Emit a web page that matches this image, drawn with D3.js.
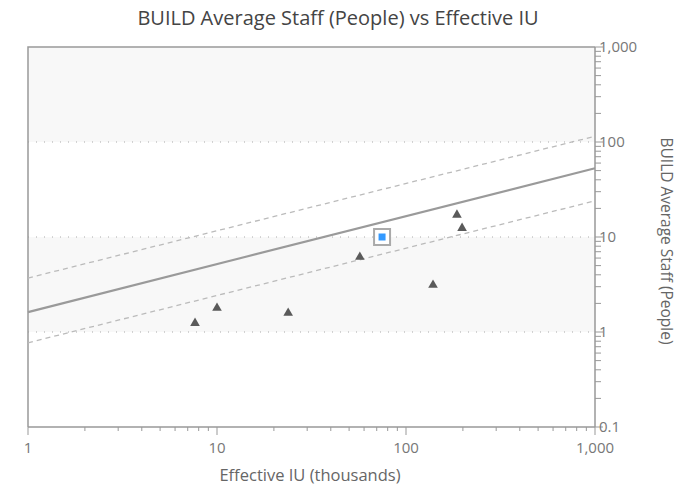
<!DOCTYPE html>
<html>
<head>
<meta charset="utf-8">
<script src="https://cdn.jsdelivr.net/npm/d3@7"></script>
<style>
  body { margin: 0; background: #fff; }
  svg { display: block; font-family: "Open Sans", sans-serif; }
</style>
</head>
<body>
<svg id="chart" width="680" height="489"></svg>
<script>
// effective IU (thousands) vs average staff
const projectIU = [7.65, 10, 23.8, 57, 139, 186, 198];
const projectStaff = [1.27, 1.83, 1.62, 6.3, 3.2, 17.5, 12.7];
const currentIU = [74.7];
const currentStaff = [10];
// trend line and its +/- band, given at x = 1 and x = 1000
const trendX = [1, 1000];
const trendMid = [1.62, 53];
const trendHigh = [3.7, 115];
const trendLow = [0.77, 24];
const xTicks = [1, 10, 100, 1000];
const yTicks = [0.1, 1, 10, 100, 1000];

const svg = d3.select('#chart');
const padding = { left: 28, top: 47, right: 85, bottom: 62 };
const width = 680, height = 489;

const x = d3.scaleLog().domain([1, 1000]).range([padding.left, width - padding.right]);
const y = d3.scaleLog().domain([0.1, 1000]).range([height - padding.bottom, padding.top]);
const fmt = d3.format(',');

// alternating bands
const bands = [[100, 1000], [1, 10]];
svg.selectAll('rect.band').data(bands).join('rect')
  .attr('class', 'band')
  .attr('x', x(1)).attr('width', x(1000) - x(1))
  .attr('y', (d) => y(d[1])).attr('height', (d) => y(d[0]) - y(d[1]))
  .attr('fill', '#f8f8f8');

// dotted grid
svg.selectAll('line.grid').data([1, 10, 100]).join('line')
  .attr('class', 'grid')
  .attr('x1', x(1)).attr('x2', x(1000))
  .attr('y1', (d) => y(d)).attr('y2', (d) => y(d))
  .attr('stroke', '#aaa').attr('stroke-dasharray', '1,7');

// frame top + left
svg.append('path')
  .attr('d', `M${x(1)},${y(0.1)}V${y(1000)}H${x(1000)}`)
  .attr('fill', 'none').attr('stroke', '#999').attr('stroke-width', 1.5);

// trend lines
const line = d3.line().x((d) => x(d[0])).y((d) => y(d[1]));
const trends = [
  { v: trendHigh, dash: '5,4', w: 1.3, c: '#bbb' },
  { v: trendLow, dash: '5,4', w: 1.3, c: '#bbb' },
  { v: trendMid, dash: null, w: 2.2, c: '#9a9a9a' }
];
svg.selectAll('path.trend').data(trends).join('path')
  .attr('class', 'trend')
  .attr('d', (d) => line(trendX.map((t, i) => [t, d.v[i]])))
  .attr('fill', 'none')
  .attr('stroke', (d) => d.c)
  .attr('stroke-width', (d) => d.w)
  .attr('stroke-dasharray', (d) => d.dash);

// axes
const allTicks = (lo, hi) => {
  const t = [];
  for (let p = lo; p < hi; p *= 10) for (let k = 1; k < 10; k++) t.push(p * k);
  t.push(hi);
  return t;
};
const isMajor = (v) => Math.abs(Math.log10(v) - Math.round(Math.log10(v))) < 1e-9;

const xAxis = svg.append('g').attr('transform', `translate(0,${y(0.1)})`);
xAxis.append('line').attr('x1', x(1)).attr('x2', x(1000)).attr('stroke', '#999').attr('stroke-width', 1.5);
xAxis.selectAll('line.tick').data(allTicks(1, 1000)).join('line')
  .attr('class', 'tick')
  .attr('x1', (d) => x(d)).attr('x2', (d) => x(d))
  .attr('y1', 0).attr('y2', (d) => isMajor(d) ? 8 : 4)
  .attr('stroke', '#999');
xAxis.selectAll('text').data(xTicks).join('text')
  .attr('x', (d) => x(d)).attr('y', 26)
  .attr('text-anchor', 'middle')
  .attr('font-size', 15).attr('fill', '#777')
  .text(fmt);

const yAxis = svg.append('g').attr('transform', `translate(${x(1000)},0)`);
yAxis.append('line').attr('y1', y(0.1)).attr('y2', y(1000)).attr('stroke', '#999').attr('stroke-width', 1.5);
yAxis.selectAll('line.tick').data(allTicks(0.1, 1000)).join('line')
  .attr('class', 'tick')
  .attr('y1', (d) => y(d)).attr('y2', (d) => y(d))
  .attr('x1', 0).attr('x2', (d) => isMajor(d) ? 8 : 6)
  .attr('stroke', '#999');
yAxis.selectAll('text').data(yTicks).join('text')
  .attr('x', 3).attr('y', (d) => y(d))
  .attr('dx', 1).attr('dy', '0.35em')
  .attr('font-size', 15).attr('fill', '#777')
  .text(fmt);

// points
const tri = d3.symbol().type(d3.symbolTriangle).size(40);
svg.selectAll('path.pt').data(d3.zip(projectIU, projectStaff)).join('path')
  .attr('class', 'pt')
  .attr('transform', (d) => `translate(${x(d[0])},${y(d[1]) + 1})`)
  .attr('d', tri)
  .attr('fill', '#5a5a5a');

const cur = svg.selectAll('g.cur').data(d3.zip(currentIU, currentStaff)).join('g')
  .attr('class', 'cur')
  .attr('transform', (d) => `translate(${x(d[0])},${y(d[1])})`);
cur.append('rect').attr('x', -8).attr('y', -8).attr('width', 16).attr('height', 16)
  .attr('fill', '#fff').attr('stroke', '#aaa').attr('stroke-width', 2);
cur.append('rect').attr('x', -3.5).attr('y', -3.5).attr('width', 7).attr('height', 7)
  .attr('fill', '#3399ff');

// titles
svg.append('text')
  .attr('x', 338).attr('y', 25)
  .attr('text-anchor', 'middle')
  .attr('font-size', 20).attr('fill', '#444')
  .text('BUILD Average Staff (People) vs Effective IU');

svg.append('text')
  .attr('x', 310).attr('y', 481)
  .attr('text-anchor', 'middle')
  .attr('font-size', 16.5).attr('fill', '#666')
  .text('Effective IU (thousands)');

svg.append('text')
  .attr('transform', 'translate(661,241) rotate(90)')
  .attr('text-anchor', 'middle')
  .attr('font-size', 15.5).attr('fill', '#666')
  .text('BUILD Average Staff (People)');
</script>
</body>
</html>
